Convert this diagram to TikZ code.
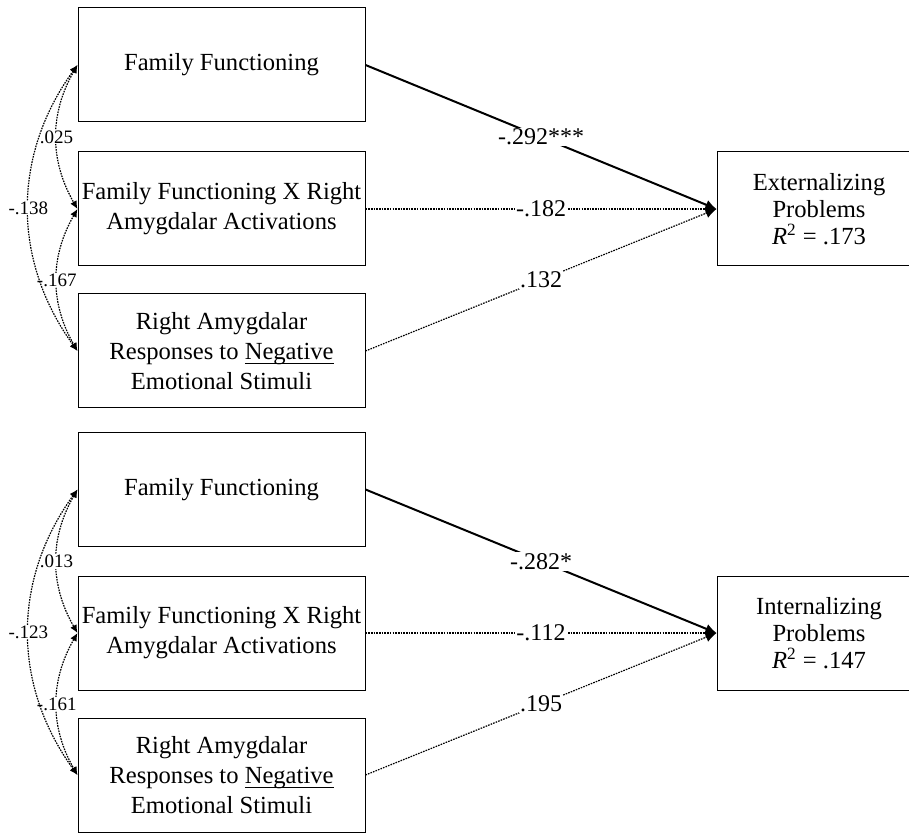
\documentclass[tikz,border=0pt]{standalone}
\usepackage{fontspec}
\setmainfont{Liberation Serif}
\usetikzlibrary{arrows.meta}

% underline set close to the descenders
\newcommand{\ulword}[1]{\setbox0\hbox{#1}\rlap{\rule[-2.3pt]{\wd0}{0.45pt}}\box0}

\begin{document}
\begin{tikzpicture}[x=0.5pt,y=-0.5pt,
  var/.style={draw, line width=0.5pt, minimum width=143.5pt, minimum height=57pt,
              align=center, inner sep=0pt, font=\fontsize{12.3}{15}\selectfont},
  outcome/.style={var, minimum width=102pt, font=\fontsize{12.3}{13.5}\selectfont},
  sigpath/.style={line width=1pt, -{Latex[length=5.5pt,width=5pt]}},
  nspath/.style={line width=0.6pt, dash pattern=on 0.8pt off 0.55pt,
                 -{Latex[length=5.5pt,width=5pt]}},
  cov/.style={line width=0.6pt, dash pattern=on 0.8pt off 0.55pt,
              {Latex[length=4pt,width=3.6pt]}-{Latex[length=4pt,width=3.6pt]}},
  coef/.style={fill=white, inner sep=0.6pt, font=\fontsize{12}{14}\selectfont},
  rlab/.style={fill=white, inner sep=0.4pt, font=\fontsize{9.5}{11}\selectfont}
]
\clip (0,0) rectangle (909,833);

% ---------- Model 1: externalizing problems ----------
\node[var] (ffA)  at (221.5,65)  {Family Functioning};
\node[var] (intA) at (221.5,209) {Family Functioning X Right\\Amygdalar Activations};
\node[var] (negA) at (221.5,351) {Right Amygdalar\\Responses to \ulword{Negative}\\Emotional Stimuli};
\node[outcome] (ext) at (819,209) {Externalizing\\Problems\\\textit{R}\textsuperscript{2} = .173};

\draw[sigpath] (ffA.east)  -- node[coef] {-.292***} (ext.west);
\draw[nspath]  (intA.east) -- node[coef] {-.182} (ext.west);
\draw[nspath]  (negA.east) -- node[coef] {.132} (ext.west);

\draw[cov] (ffA.west)  to[bend right=30] node[rlab] {.025} (intA.west);
\draw[cov] (intA.west) to[bend right=30] node[rlab] {-.167} (negA.west);
\draw[cov] (ffA.west)  to[bend right=36] node[rlab] {-.138} (negA.west);

% ---------- Model 2: internalizing problems ----------
\node[var] (ffB)  at (221.5,489.5) {Family Functioning};
\node[var] (intB) at (221.5,633)   {Family Functioning X Right\\Amygdalar Activations};
\node[var] (negB) at (221.5,775)   {Right Amygdalar\\Responses to \ulword{Negative}\\Emotional Stimuli};
\node[outcome] (inte) at (819,633) {Internalizing\\Problems\\\textit{R}\textsuperscript{2} = .147};

\draw[sigpath] (ffB.east)  -- node[coef] {-.282*} (inte.west);
\draw[nspath]  (intB.east) -- node[coef] {-.112} (inte.west);
\draw[nspath]  (negB.east) -- node[coef] {.195} (inte.west);

\draw[cov] (ffB.west)  to[bend right=30] node[rlab] {.013} (intB.west);
\draw[cov] (intB.west) to[bend right=30] node[rlab] {-.161} (negB.west);
\draw[cov] (ffB.west)  to[bend right=36] node[rlab] {-.123} (negB.west);
\end{tikzpicture}
\end{document}
